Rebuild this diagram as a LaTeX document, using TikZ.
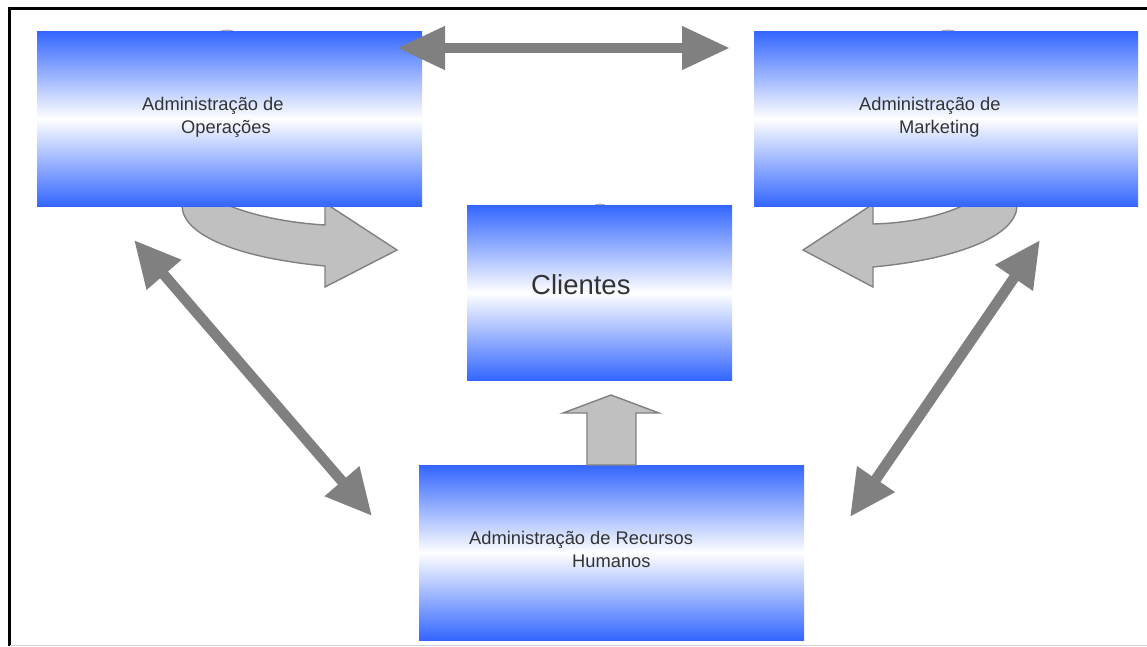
\documentclass[tikz,border=0pt]{standalone}
\usepackage{fontspec}
\setmainfont{Liberation Sans}
\usetikzlibrary{arrows.meta}
\definecolor{boxblue}{RGB}{51,102,255}
\definecolor{arrowgray}{RGB}{128,128,128}
\definecolor{blockfill}{RGB}{192,192,192}
\definecolor{labelgray}{RGB}{51,51,51}
\definecolor{edgegray}{RGB}{210,210,210}
\begin{document}
\begin{tikzpicture}[x=1pt,y=-1pt,
  panel/.style={rectangle, inner sep=0pt, anchor=north west,
    top color=boxblue, bottom color=boxblue, middle color=white},
  txt/.style={anchor=base west, inner sep=0pt, text=labelgray,
    font=\fontsize{18.3}{22}\selectfont},
  bigtxt/.style={txt, font=\fontsize{27.5}{33}\selectfont},
  blockarrow/.style={fill=blockfill, draw=arrowgray, line width=1.4pt, line join=miter},
  peekcap/.style={fill=blockfill, draw=arrowgray!70, line width=0.8pt},
  linkarrow/.style={arrowgray, line width=10.5pt},
  tipA/.style={{Triangle[length=46pt,width=43pt]}-{Triangle[length=46pt,width=43pt]}}
]
\useasboundingbox (0,0) rectangle (1147,646);

% frame
\draw[black, line width=3pt] (9,646) -- (9,8) -- (1147,8);
\draw[edgegray, line width=1pt] (10,645.5) -- (1147,645.5);

% small caps peeking out above the panels
\draw[peekcap] (227,40) ellipse[x radius=14, y radius=10];
\draw[peekcap] (948,40) ellipse[x radius=15, y radius=10];
\draw[peekcap] (600,214) ellipse[x radius=11, y radius=10];

% curved block arrow from Operações towards Clientes
\filldraw[blockarrow]
  (232,195) -- (230,206) .. controls (255,216) and (290,223) .. (325,225)
  -- (325,203) -- (397,250) -- (325,287) -- (325,266)
  .. controls (240,258) and (183,236) .. (182,206) -- (182,195) -- cycle;

% curved block arrow from Marketing towards Clientes
\filldraw[blockarrow]
  (962,195) -- (962,206) .. controls (940,216) and (910,223) .. (873,224)
  -- (873,204) -- (803,250) -- (873,287) -- (873,267)
  .. controls (958,259) and (1016,236) .. (1017,206) -- (1017,195) -- cycle;

% panels
\node[panel, minimum width=385pt, minimum height=175pt] (ops) at (37,31) {};
\node[panel, minimum width=384pt, minimum height=175pt] (mkt) at (754,31) {};
\node[panel, minimum width=265pt, minimum height=175pt] (cli) at (467,205) {};
\node[panel, minimum width=385pt, minimum height=175pt] (rh) at (419,465) {};

% labels
\node[txt] (opsA) at (142,110) {Administração de};
\node[txt] (opsB) at (181,133) {Operações};
\node[txt] (mktA) at (859,110) {Administração de};
\node[txt] (mktB) at (899,133) {Marketing};
\node[bigtxt] (cliA) at (531,294) {Clientes};
\node[txt] (rhA) at (469,544) {Administração de Recursos};
\node[txt] (rhB) at (572,567) {Humanos};

% block arrow from Recursos Humanos up to Clientes
\filldraw[blockarrow]
  (587,465) -- (587,413) -- (563,413) -- (611,395) -- (659,413)
  -- (636,413) -- (636,465) -- cycle;

% double arrows between the departments
\coordinate (topL) at (397,48);
\coordinate (topR) at (730,48);
\coordinate (leftU) at (134,240);
\coordinate (leftD) at (372,516);
\coordinate (rightU) at (1040,240);
\coordinate (rightD) at (850,517);
\draw[linkarrow, {Triangle[length=48pt,width=41pt]}-{Triangle[length=48pt,width=41pt]}] (topL) -- (topR);
\draw[linkarrow, tipA] (leftU) -- (leftD);
\draw[linkarrow, tipA] (rightU) -- (rightD);
\end{tikzpicture}
\end{document}
